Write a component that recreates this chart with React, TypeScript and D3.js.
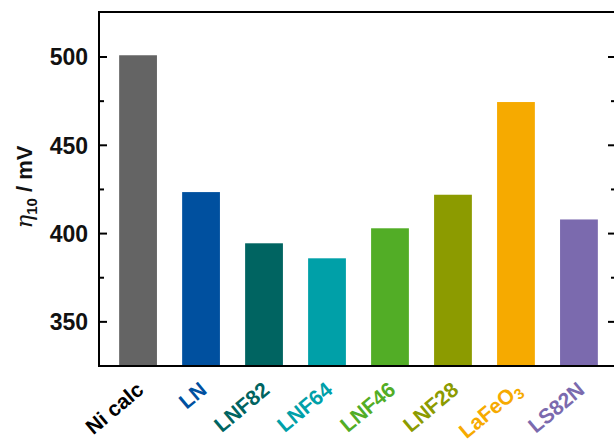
import React from "react";
import * as d3 from "d3";

const categories = ["Ni calc", "LN", "LNF82", "LNF64", "LNF46", "LNF28", "LaFeO3", "LS82N"];
const overpotentials = [501, 423.5, 394.5, 386, 403, 422, 474.5, 408];
const barColors = ["#646464", "#00509f", "#006461", "#00a0a8", "#52ad26", "#8c9b00", "#f6aa00", "#7b6aae"];
const labelColors = ["#000000", "#00509f", "#006461", "#00a0a8", "#52ad26", "#8c9b00", "#f6aa00", "#7b6aae"];
const majorTicks = [350, 400, 450, 500];
const minorTicks = [375, 425, 475];

const W = 614;
const H = 439;
const frame = { left: 99, right: 616, top: 12, bottom: 366 };

export default function App() {
  const x = d3
    .scaleBand<string>()
    .domain(categories)
    .range([frame.left, frame.right + 2])
    .paddingInner(0.4)
    .paddingOuter(0.32);
  const y = d3.scaleLinear().domain([325, 525.5]).range([frame.bottom, frame.top]);
  const font = "'Liberation Sans', Arial, sans-serif";

  return (
    <svg width={W} height={H} style={{ position: "absolute", left: 0, top: 0 }}>
      <rect width={W} height={H} fill="#fff" />
      {categories.map((c, i) => (
        <rect
          key={c}
          x={x(c)}
          y={y(overpotentials[i])}
          width={x.bandwidth()}
          height={frame.bottom - y(overpotentials[i])}
          fill={barColors[i]}
        />
      ))}
      <rect
        x={frame.left}
        y={frame.top}
        width={frame.right - frame.left}
        height={frame.bottom - frame.top}
        fill="none"
        stroke="#000"
        strokeWidth={2}
      />
      {majorTicks.map((t) => (
        <g key={t}>
          <line x1={frame.left} x2={frame.left + 8} y1={y(t)} y2={y(t)} stroke="#000" strokeWidth={2} />
          <line x1={frame.right} x2={frame.right - 8} y1={y(t)} y2={y(t)} stroke="#000" strokeWidth={2} />
          <text
            x={frame.left - 11}
            y={y(t)}
            dy="0.36em"
            textAnchor="end"
            fontFamily={font}
            fontWeight="bold"
            fontSize={23}
            fill="#111"
          >
            {t}
          </text>
        </g>
      ))}
      {minorTicks.map((t) => (
        <g key={t}>
          <line x1={frame.left} x2={frame.left + 5} y1={y(t)} y2={y(t)} stroke="#000" strokeWidth={2} />
          <line x1={frame.right} x2={frame.right - 5} y1={y(t)} y2={y(t)} stroke="#000" strokeWidth={2} />
        </g>
      ))}
      {categories.map((c, i) => {
        const lx = (x(c) as number) + x.bandwidth() / 2 + 7;
        const ly = frame.bottom + 26;
        return (
          <text
            key={c}
            x={lx}
            y={ly}
            transform={`rotate(-40, ${lx}, ${ly})`}
            textAnchor="end"
            fontFamily={font}
            fontWeight="bold"
            fontSize={21}
            fill={labelColors[i]}
          >
            {c === "LaFeO3" ? (
              <>
                LaFeO<tspan fontSize={15} dy={4}>3</tspan>
              </>
            ) : (
              c
            )}
          </text>
        );
      })}
      <g transform={`translate(32, 187)`}>
        <text
          transform="rotate(-90)"
          textAnchor="middle"
          fontFamily={font}
          fontWeight="bold"
          fontSize={22}
          fill="#111"
        >
          <tspan fontFamily="'DejaVu Serif', serif" fontStyle="italic" fontWeight="normal" fontSize={23}>
            η
          </tspan>
          <tspan fontSize={15} dy={5}>10</tspan>
          <tspan dy={-5}> / mV</tspan>
        </text>
      </g>
    </svg>
  );
}
